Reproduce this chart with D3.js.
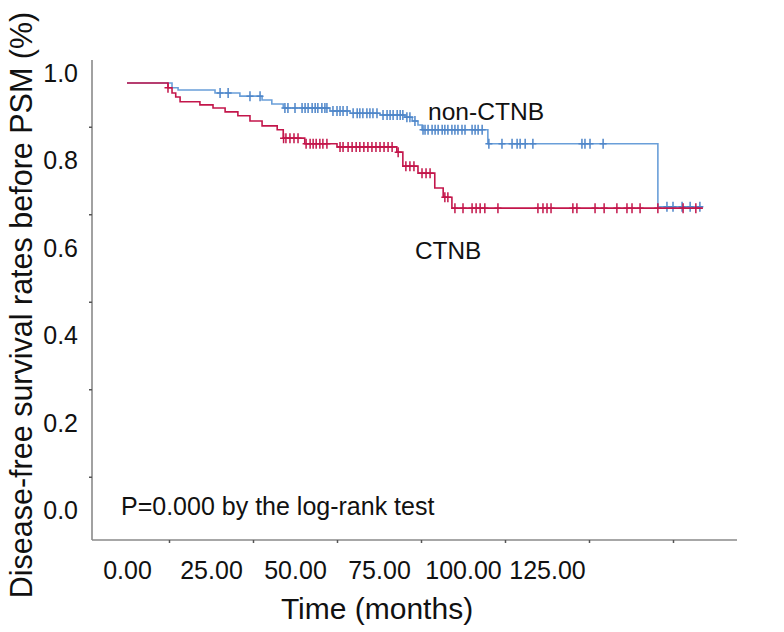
<!DOCTYPE html>
<html>
<head>
<meta charset="utf-8">
<script src="https://cdn.jsdelivr.net/npm/d3@7/dist/d3.min.js"></script>
<style>
  html, body { margin: 0; padding: 0; background: #fff; }
  svg { display: block; }
</style>
</head>
<body>
<svg id="chart" width="784" height="632"></svg>
<script>
// ---------------- DATA ----------------
const xTickLabels = [0, 25, 50, 75, 100, 125];
const xMinorTicks = [12.5, 37.5, 62.5, 87.5, 112.5, 137.5, 162.5];
const yTickLabels = [0.0, 0.2, 0.4, 0.6, 0.8, 1.0];
const yMinorTicks = [0.1, 0.3, 0.5, 0.7, 0.9];

// Kaplan-Meier step knots: [time (months), survival]
const ctnbSteps = [
  [0, 1.0], [12.2, 0.989], [13.4, 0.977], [14.5, 0.968], [15.8, 0.957],
  [21.7, 0.950], [25.6, 0.943], [29.2, 0.934], [33.0, 0.925], [36.6, 0.913],
  [40.2, 0.902], [44.7, 0.893], [46.5, 0.874], [52.9, 0.861], [62.5, 0.854],
  [80.3, 0.842], [82.1, 0.810], [86.6, 0.794], [91.6, 0.760], [94.1, 0.739],
  [96.7, 0.714], [171.4, 0.714]
];
const nonCtnbSteps = [
  [0, 1.0], [13.4, 0.989], [15.2, 0.984], [26.2, 0.977], [33.6, 0.970],
  [40.2, 0.961], [43.1, 0.952], [46.5, 0.943], [60.4, 0.936], [66.4, 0.931],
  [75.3, 0.927], [82.7, 0.922], [84.9, 0.913], [86.6, 0.904], [87.8, 0.893],
  [107.4, 0.861], [158.0, 0.717], [171.4, 0.717]
];
// censored observations (months)
const ctnbCensored = [
  12.2, 46.6, 47.3, 48.5, 49.7, 50.9, 53.3, 54.5, 55.4, 56.3, 57.4, 58.3, 59.5,
  63.4, 64.3, 65.8, 67.0, 68.2, 69.3, 70.5, 71.7, 72.9, 74.1, 75.3, 76.5, 77.7,
  78.9, 80.7, 83.0, 84.2, 85.4, 87.8, 89.0, 90.2, 94.6, 95.5, 97.6, 100.0, 102.7,
  103.9, 105.1, 106.5, 110.4, 122.3, 123.8, 125.0, 126.2, 132.7, 133.9, 139.3,
  142.0, 145.8, 148.8, 150.3, 152.7, 158.0, 165.5, 169.3
];
const nonCtnbCensored = [
  27.7, 30.1, 36.6, 39.6, 47.0, 47.9, 50.0, 52.1, 53.0, 53.9, 55.1, 56.0, 56.8,
  58.0, 58.9, 59.5, 61.3, 62.5, 63.4, 64.3, 65.5, 67.3, 68.5, 69.3, 70.2, 71.4,
  72.3, 73.2, 74.4, 76.2, 77.4, 78.3, 79.2, 80.4, 81.3, 82.1, 83.3, 84.2, 85.7,
  88.1, 88.7, 89.6, 90.8, 91.7, 92.6, 93.8, 94.6, 95.5, 96.7, 97.6, 98.5, 99.7,
  100.6, 102.7, 103.6, 104.5, 105.7, 107.7, 111.6, 114.6, 116.1, 117.0, 118.5,
  120.8, 135.4, 136.3, 137.8, 141.7, 160.7, 162.5, 165.2, 167.6, 170.5
];
const seriesNames = ["CTNB", "non-CTNB"];
const annotation = "P=0.000 by the log-rank test";
const xTitle = "Time (months)";
const yTitle = "Disease-free survival rates before PSM (%)";

// ---------------- CHART ----------------
const svg = d3.select("#chart");
const colors = { red: "#c3164b", blue: "#6a9fd9", blueMark: "#4f86c9" };
const FONT = "'Liberation Sans', Arial, Helvetica, sans-serif";

const x = d3.scaleLinear().domain([0, 125]).range([127, 547]);
const y = d3.scaleLinear().domain([0, 1]).range([520.5, 83]);

const axisColor = "#8a8a8a";
const axisLeftX = 92, axisBottomY = 540, axisTopY = 60, axisRightX = 737;

// axis lines
svg.append("line").attr("x1", axisLeftX).attr("x2", axisLeftX)
  .attr("y1", axisTopY).attr("y2", axisBottomY)
  .attr("stroke", axisColor).attr("stroke-width", 1.6);
svg.append("line").attr("x1", axisLeftX).attr("x2", axisRightX)
  .attr("y1", axisBottomY).attr("y2", axisBottomY)
  .attr("stroke", axisColor).attr("stroke-width", 1.6);

// minor tick marks (y)
const gyMinor = svg.append("g").attr("transform", `translate(${axisLeftX},0)`)
  .call(d3.axisLeft(y).tickValues(yMinorTicks).tickSize(3).tickFormat(""));
gyMinor.select(".domain").remove();
gyMinor.selectAll("line").attr("stroke", "#555").attr("stroke-width", 1.5);

// y labels
const gyLab = svg.append("g").attr("transform", `translate(${axisLeftX},0)`)
  .call(d3.axisLeft(y).tickValues(yTickLabels).tickSize(0).tickPadding(14)
    .tickFormat(d3.format(".1f")));
gyLab.select(".domain").remove();
gyLab.selectAll("text")
  .attr("font-family", FONT).attr("font-size", 25).attr("fill", "#111")
  .attr("dy", "-0.08em");

// minor tick marks (x)
const gxMinor = svg.append("g").attr("transform", `translate(0,${axisBottomY})`)
  .call(d3.axisBottom(x).tickValues(xMinorTicks).tickSize(3).tickFormat(""));
gxMinor.select(".domain").remove();
gxMinor.selectAll("line").attr("stroke", "#555").attr("stroke-width", 1.5);

// x labels
const gxLab = svg.append("g").attr("transform", `translate(0,${axisBottomY})`)
  .call(d3.axisBottom(x).tickValues(xTickLabels).tickSize(0).tickPadding(21)
    .tickFormat(d3.format(".2f")));
gxLab.select(".domain").remove();
gxLab.selectAll("text")
  .attr("font-family", FONT).attr("font-size", 25).attr("fill", "#111");

// axis titles
svg.append("text").attr("x", 377).attr("y", 619)
  .attr("text-anchor", "middle")
  .attr("font-family", FONT).attr("font-size", 30).attr("fill", "#111").text(xTitle);

svg.append("text")
  .attr("transform", "translate(32,305) rotate(-90)")
  .attr("text-anchor", "middle")
  .attr("font-family", FONT).attr("font-size", 30.5).attr("fill", "#111").text(yTitle);

// step curves
const line = d3.line().x(d => x(d[0])).y(d => y(d[1])).curve(d3.curveStepAfter);
function survAt(steps, t) {
  const i = d3.bisector(d => d[0]).right(steps, t) - 1;
  return steps[Math.max(0, i)][1];
}
function drawSeries(steps, censored, lineColor, markColor) {
  svg.append("path").datum(steps).attr("d", line)
    .attr("fill", "none").attr("stroke", lineColor).attr("stroke-width", 1.6);
  const g = svg.append("g");
  g.selectAll("path").data(censored).join("path")
    .attr("d", t => {
      const cx = x(t), cy = y(survAt(steps, t));
      return `M${cx},${cy - 5}V${cy + 5}M${cx - 3.5},${cy}H${cx + 3.5}`;
    })
    .attr("stroke", markColor).attr("stroke-width", 1.5).attr("fill", "none");
}
drawSeries(nonCtnbSteps, nonCtnbCensored, colors.blue, colors.blueMark);
drawSeries(ctnbSteps, ctnbCensored, colors.red, colors.red);

// series labels
svg.append("text").attr("transform", "translate(428,120) scale(1.07,1)")
  .attr("font-family", FONT).attr("font-size", 23).attr("fill", "#111").text(seriesNames[1]);
svg.append("text").attr("transform", "translate(415,259) scale(1.06,1)")
  .attr("font-family", FONT).attr("font-size", 23).attr("fill", "#111").text(seriesNames[0]);

// annotation
svg.append("text").attr("x", 121).attr("y", 515)
  .attr("font-family", FONT).attr("font-size", 25).attr("fill", "#111").text(annotation);
</script>
</body>
</html>
